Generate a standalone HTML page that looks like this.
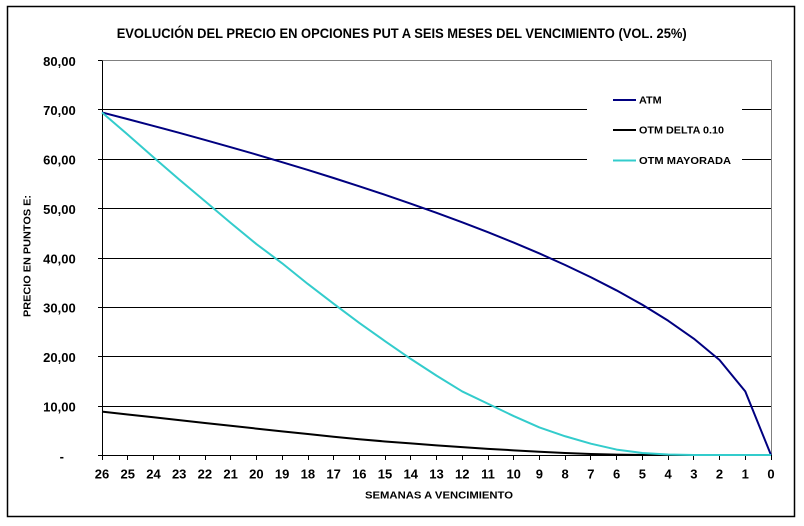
<!DOCTYPE html>
<html><head><meta charset="utf-8"><style>
html,body{margin:0;padding:0;background:#fff;}
svg{display:block;}
text{font-family:"Liberation Sans",Arial,sans-serif;font-weight:bold;fill:#000;}
</style></head><body>
<svg width="804" height="526" viewBox="0 0 804 526" xmlns="http://www.w3.org/2000/svg">
<rect x="0" y="0" width="804" height="526" fill="#fff"/>
<rect x="7.5" y="6.5" width="787" height="510" fill="none" stroke="#000" stroke-width="1.5"/>

<text x="116.7" y="38" font-size="14" textLength="570" lengthAdjust="spacingAndGlyphs">EVOLUCIÓN DEL PRECIO EN OPCIONES PUT A SEIS MESES DEL VENCIMIENTO (VOL. 25%)</text>

<!-- plot border -->
<path d="M102 60.5 H771.5 V455" fill="none" stroke="#808080" stroke-width="1"/>
<!-- gridlines -->
<path d="M102 109.5 H771 M102 159.5 H771 M102 208.5 H771 M102 258.5 H771 M102 307.5 H771 M102 356.5 H771 M102 406.5 H771" stroke="#000" stroke-width="1"/>
<!-- legend background -->
<rect x="587" y="80" width="155" height="100" fill="#fff"/>

<!-- axes -->
<path d="M102.5 60.5 V455.5 M98 455.5 H771.5" stroke="#000" stroke-width="1"/>
<!-- y ticks -->
<path d="M98 60.5 H102 M98 109.5 H102 M98 159.5 H102 M98 208.5 H102 M98 258.5 H102 M98 307.5 H102 M98 356.5 H102 M98 406.5 H102" stroke="#000" stroke-width="1"/>
<!-- x ticks -->
<path d="M102.5 455 V460 M127.5 455 V460 M153.5 455 V460 M179.5 455 V460 M205.5 455 V460 M230.5 455 V460 M256.5 455 V460 M282.5 455 V460 M308.5 455 V460 M333.5 455 V460 M359.5 455 V460 M385.5 455 V460 M410.5 455 V460 M436.5 455 V460 M462.5 455 V460 M488.5 455 V460 M513.5 455 V460 M539.5 455 V460 M565.5 455 V460 M590.5 455 V460 M616.5 455 V460 M642.5 455 V460 M668.5 455 V460 M693.5 455 V460 M719.5 455 V460 M745.5 455 V460 M771.5 455 V460" stroke="#000" stroke-width="1"/>

<!-- y labels -->
<g font-size="13" text-anchor="end">
<text x="75.7" y="66">80,00</text>
<text x="75.7" y="115">70,00</text>
<text x="75.7" y="164.5">60,00</text>
<text x="75.7" y="214">50,00</text>
<text x="75.7" y="263.5">40,00</text>
<text x="75.7" y="312.5">30,00</text>
<text x="75.7" y="362">20,00</text>
<text x="75.7" y="411.5">10,00</text>
<text x="64" y="461">-</text>
</g>

<!-- x labels -->
<g font-size="13" text-anchor="middle">
<text x="102" y="478.5">26</text>
<text x="127.73" y="478.5">25</text>
<text x="153.46" y="478.5">24</text>
<text x="179.19" y="478.5">23</text>
<text x="204.92" y="478.5">22</text>
<text x="230.65" y="478.5">21</text>
<text x="256.38" y="478.5">20</text>
<text x="282.12" y="478.5">19</text>
<text x="307.85" y="478.5">18</text>
<text x="333.58" y="478.5">17</text>
<text x="359.31" y="478.5">16</text>
<text x="385.04" y="478.5">15</text>
<text x="410.77" y="478.5">14</text>
<text x="436.5" y="478.5">13</text>
<text x="462.23" y="478.5">12</text>
<text x="487.96" y="478.5">11</text>
<text x="513.69" y="478.5">10</text>
<text x="539.42" y="478.5">9</text>
<text x="565.15" y="478.5">8</text>
<text x="590.88" y="478.5">7</text>
<text x="616.62" y="478.5">6</text>
<text x="642.35" y="478.5">5</text>
<text x="668.08" y="478.5">4</text>
<text x="693.81" y="478.5">3</text>
<text x="719.54" y="478.5">2</text>
<text x="745.27" y="478.5">1</text>
<text x="771" y="478.5">0</text>
</g>

<!-- axis titles -->
<text x="365" y="498.3" font-size="10.5" textLength="148" lengthAdjust="spacingAndGlyphs">SEMANAS A VENCIMIENTO</text>
<text transform="translate(30.7,317) rotate(-90)" x="0" y="0" font-size="10" textLength="122" lengthAdjust="spacingAndGlyphs">PRECIO EN PUNTOS E:</text>

<!-- series -->
<g transform="translate(771,455) scale(-25.7308,-4.92875)" fill="none" stroke-linejoin="round">
<polyline vector-effect="non-scaling-stroke" stroke="#000000" stroke-width="2" points="26,8.8 25,8.22 24,7.65 23,7.08 22,6.5 21,5.93 20,5.36 19,4.8 18,4.25 17,3.7 16,3.2 15,2.75 14,2.35 13,1.95 12,1.6 11,1.25 10,0.95 9,0.65 8,0.4 7,0.2 6,0.08 5,0.02 4,0 3,0 2,0 1,0 0,0"/>
<polyline vector-effect="non-scaling-stroke" stroke="#000080" stroke-width="2" points="26,69.5 25,68.15 24,66.77 23,65.37 22,63.93 21,62.46 20,60.96 19,59.41 18,57.83 17,56.2 16,54.52 15,52.79 14,51 13,49.14 12,47.22 11,45.21 10,43.1 9,40.89 8,38.55 7,36.06 6,33.39 5,30.48 4,27.26 3,23.61 2,19.28 1,12.9 0,0"/>
<polyline vector-effect="non-scaling-stroke" stroke="#33CCCC" stroke-width="2" points="26,69.5 25,65 24,60.4 23,55.9 22,51.5 21,47.1 20,42.8 19,38.9 18,34.7 17,30.7 16,26.8 15,23.1 14,19.5 13,16.1 12,12.9 11,10.4 10,7.9 9,5.6 8,3.8 7,2.3 6,1.1 5,0.4 4,0.1 3,0 2,0 1,0 0,0"/>
</g>

<!-- legend -->
<path d="M613 100 H636" stroke="#000080" stroke-width="2"/>
<path d="M613 130 H636" stroke="#000000" stroke-width="2"/>
<path d="M613 160.5 H636" stroke="#33CCCC" stroke-width="2"/>
<g font-size="10">
<text x="639" y="103.5" textLength="22.7" lengthAdjust="spacingAndGlyphs">ATM</text>
<text x="639" y="133.5" textLength="85" lengthAdjust="spacingAndGlyphs">OTM DELTA 0.10</text>
<text x="639" y="164" textLength="92" lengthAdjust="spacingAndGlyphs">OTM MAYORADA</text>
</g>
</svg>
</body></html>
